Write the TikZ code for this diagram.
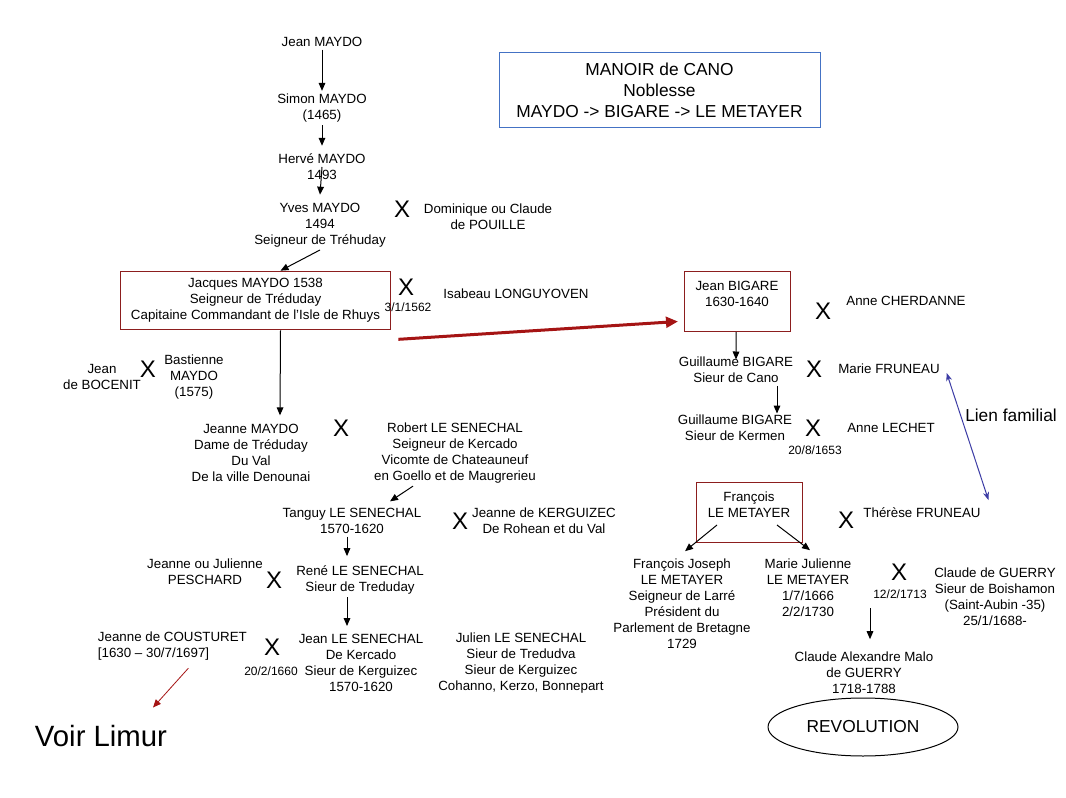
\documentclass[tikz,border=0pt]{standalone}
\usepackage{fontspec}
\setmainfont{Liberation Sans}
\usepackage{xcolor}
\usetikzlibrary{arrows.meta, positioning, shapes.geometric}
\definecolor{boxRed}{RGB}{140, 30, 30}
\definecolor{arrowRed}{RGB}{165, 20, 20}
\definecolor{titleBlue}{RGB}{68, 114, 196}
\definecolor{linkBlue}{RGB}{60, 60, 165}

\tikzset{
  person/.style={align=center, font=\fontsize{10}{12}\selectfont, inner sep=2pt},
  datum/.style={font=\fontsize{9}{11}\selectfont, inner sep=1pt},
  wed/.style={font=\fontsize{18}{20}\selectfont, inner sep=0pt},
  redframe/.style={draw=boxRed, line width=0.75pt, minimum width=79.5pt, minimum height=45pt},
  descent/.style={-{Triangle[length=6pt, width=5pt]}, line width=0.75pt},
}

\begin{document}
\begin{tikzpicture}[x=0.75pt, y=-0.75pt]
  \fill[white] (0,0) rectangle (1066,798);
  \useasboundingbox (0,0) rectangle (1066,798);

  % title
  \node[draw=titleBlue, line width=0.75pt, minimum width=240.75pt, minimum height=56.25pt,
        align=center, font=\fontsize{13}{15.75}\selectfont] (title) at (659.5,90.5)
        {MANOIR de CANO\\Noblesse\\MAYDO -> BIGARE -> LE METAYER};

  % MAYDO line
  \node[person] (jmaydo) at (322,42) {Jean MAYDO};
  \node[person] (simon) at (322,108) {Simon MAYDO\\(1465)};
  \node[person] (herve) at (322,167) {Hervé MAYDO\\1493};
  \node[person] (yves) at (320,225) {Yves MAYDO\\1494\\Seigneur de Tréhuday};
  \node[wed] (x1) at (402,209) {X};
  \node[person] (pouille) at (488,217) {Dominique ou Claude\\de POUILLE};

  \node[person, redframe, minimum width=203pt, minimum height=44pt] (jacques) at (255.5,300.5)
        {Jacques MAYDO 1538\\Seigneur de Tréduday\\Capitaine Commandant de l’Isle de Rhuys};
  \node[wed] (x2) at (406,287) {X};
  \node[datum] (d1) at (408,307) {3/1/1562};
  \node[person] (isabeau) at (516,294) {Isabeau LONGUYOVEN};

  \node[person] (bocenit) at (102,377) {Jean\\de BOCENIT};
  \node[wed] (x3) at (148,369) {X};
  \node[person] (bastienne) at (194,377) {Bastienne\\MAYDO\\(1575)};

  \node[person] (jeanne) at (251,453) {Jeanne MAYDO\\Dame de Tréduday\\Du Val\\De la ville Denounai};
  \node[wed] (x4) at (341,428) {X};
  \node[person] (robert) at (455,453) {Robert LE SENECHAL\\Seigneur de Kercado\\Vicomte de Chateauneuf\\en Goello et de Maugrerieu};

  % LE SENECHAL line
  \node[person] (tanguy) at (352,521) {Tanguy LE SENECHAL\\1570-1620};
  \node[wed] (x5) at (460,521) {X};
  \node[person] (kerguizec) at (544,521) {Jeanne de KERGUIZEC\\De Rohean et du Val};

  \node[person] (peschard) at (205,572) {Jeanne ou Julienne\\PESCHARD};
  \node[wed] (x6) at (274,580) {X};
  \node[person] (rene) at (360,580) {René LE SENECHAL\\Sieur de Treduday};

  \node[person, align=left, anchor=west] (cousturet) at (95,646) {Jeanne de COUSTURET\\{}[1630 – 30/7/1697]};
  \node[wed] (x7) at (272,647) {X};
  \node[datum] (d2) at (271,671) {20/2/1660};
  \node[person] (jls) at (361,663) {Jean LE SENECHAL\\De Kercado\\Sieur de Kerguizec\\1570-1620};
  \node[person] (julien) at (521,663) {Julien LE SENECHAL\\Sieur de Tredudva\\Sieur de Kerguizec\\Cohanno, Kerzo, Bonnepart};
  \node[font=\fontsize{22}{26}\selectfont] (limur) at (101,736) {Voir Limur};

  % BIGARE line
  \node[redframe] (bigarebox) at (737.5,301.5) {};
  \node[person] (bigare) at (737,294) {Jean BIGARE\\1630-1640};
  \node[wed] (x8) at (823,311) {X};
  \node[person] (cherdanne) at (906,301) {Anne CHERDANNE};

  \node[person] (gcano) at (736,370) {Guillaume BIGARE\\Sieur de Cano};
  \node[wed] (x9) at (814,369) {X};
  \node[person] (fruneau) at (889,369) {Marie FRUNEAU};

  \node[person] (gkermen) at (735,428) {Guillaume BIGARE\\Sieur de Kermen};
  \node[wed] (x10) at (813,428) {X};
  \node[datum] (d3) at (815,450) {20/8/1653};
  \node[person] (lechet) at (891,428) {Anne LECHET};

  \node[font=\fontsize{13}{15}\selectfont] (lien) at (1011,415) {Lien familial};

  % LE METAYER line
  \node[redframe] (metayerbox) at (749,512) {};
  \node[person] (metayer) at (749,505) {François\\LE METAYER};
  \node[wed] (x11) at (846,520) {X};
  \node[person] (therese) at (922,513) {Thérèse FRUNEAU};

  \node[person] (fj) at (682,604) {François Joseph\\LE METAYER\\Seigneur de Larré\\Président du\\Parlement de Bretagne\\1729};
  \node[person] (mj) at (808,588) {Marie Julienne\\LE METAYER\\1/7/1666\\2/2/1730};
  \node[wed] (x12) at (899,572) {X};
  \node[datum] (d4) at (900,594) {12/2/1713};
  \node[person] (guerry) at (995,597) {Claude de GUERRY\\Sieur de Boishamon\\(Saint-Aubin -35)\\25/1/1688-};
  \coordinate (mjguerry) at (870,608);

  \node[person] (cam) at (864,673) {Claude Alexandre Malo\\de GUERRY\\1718-1788};
  \node[draw, ellipse, line width=0.75pt, minimum width=142.5pt, minimum height=43.5pt,
        font=\fontsize{13}{15}\selectfont] (revol) at (863,727) {REVOLUTION};

  % descent arrows
  \draw[descent] (jmaydo.south) -- (simon.north);
  \draw[descent] (simon.south) -- ([yshift=4pt]herve.north);
  \draw[descent] (herve.center) -- ([yshift=4pt]yves.north);
  \draw[descent] (yves.south) -- ([xshift=18.75pt]jacques.north);
  \draw[descent] ([xshift=18.75pt]jacques.south) -- ([shift={(29,-6)}]jeanne.north);
  \draw[descent] ([xshift=-31.5pt]robert.south) -- ([xshift=28.5pt, yshift=3pt]tanguy.north);
  \draw[descent] ([xshift=-3.75pt]tanguy.south) -- ([xshift=-9.75pt, yshift=5pt]rene.north);
  \draw[descent] ([xshift=-9.75pt]rene.south) -- ([xshift=-10.5pt, yshift=4pt]jls.north);
  \draw[descent, draw=arrowRed, line width=0.6pt] ([shift={(16,5)}]cousturet.south) -- ([shift={(52,-13)}]limur.north);

  \draw[descent, draw=arrowRed, line width=2.25pt, -{Triangle[length=9pt, width=8pt]}]
        ([shift={(7,9)}]jacques.south east) -- ([shift={(-6,20)}]bigarebox.west);
  \draw[descent] ([xshift=-1pt]bigarebox.south) -- ([yshift=-4pt]gcano.north);
  \draw[descent] ([xshift=30.75pt]gcano.south) -- ([xshift=31.5pt, yshift=-1pt]gkermen.north);
  \draw[descent] ([shift={(-32,13)}]metayerbox.center) -- ([shift={(3,-5)}]fj.north);
  \draw[descent] ([shift={(28,13)}]metayerbox.center) -- ([shift={(2,-6)}]mj.north);
  \draw[descent] (mjguerry) -- ([shift={(6,-10)}]cam.north);

  % family link
  \draw[linkBlue, line width=0.75pt, {Stealth[length=6pt, width=4.5pt]}-{Stealth[length=6pt, width=4.5pt]}]
        ([shift={(4,4)}]fruneau.east) -- ([shift={(5,-5)}]therese.north east);
\end{tikzpicture}
\end{document}
